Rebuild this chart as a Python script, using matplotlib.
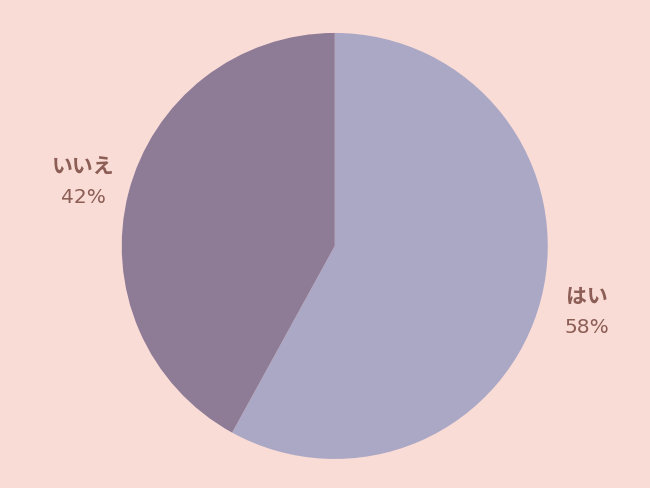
import numpy as np
import matplotlib
matplotlib.use("Agg")
import matplotlib.pyplot as plt

plt.rcParams['font.family'] = ['Noto Sans CJK JP', 'DejaVu Sans']

labels = ["はい", "いいえ"]
values = [58, 42]
colors = ["#ABA8C6", "#8E7B96"]
bg = "#FADCD7"
txt = "#8C5E55"

fig = plt.figure(figsize=(6.5, 4.88), dpi=100, facecolor=bg)
ax = fig.add_axes([0.515 - 0.3277, 0.496 - 0.4365, 0.6554, 0.873])
ax.set_facecolor(bg)
wedges, _ = ax.pie(values, colors=colors, startangle=90, counterclock=False,
                   radius=1, wedgeprops=dict(linewidth=0))
ax.set_xlim(-1, 1)
ax.set_ylim(-1, 1)
ax.set_aspect('equal')
ax.axis('off')

total = sum(values)
start = 90
for lab, v in zip(labels, values):
    mid = start - v / total * 360 / 2
    start -= v / total * 360
    a = np.deg2rad(mid)
    d = 1.22
    x, y = d * np.cos(a), d * np.sin(a)
    ax.text(x, y + 0.068, lab, ha='center', va='center', fontsize=15,
            fontweight='bold', color=txt, clip_on=False)
    ax.text(x, y - 0.078, f"{v}%", ha='center', va='center', fontsize=14.5,
            color=txt, clip_on=False, family=['DejaVu Sans'])

fig.savefig("out.png", dpi=100, facecolor=bg)
